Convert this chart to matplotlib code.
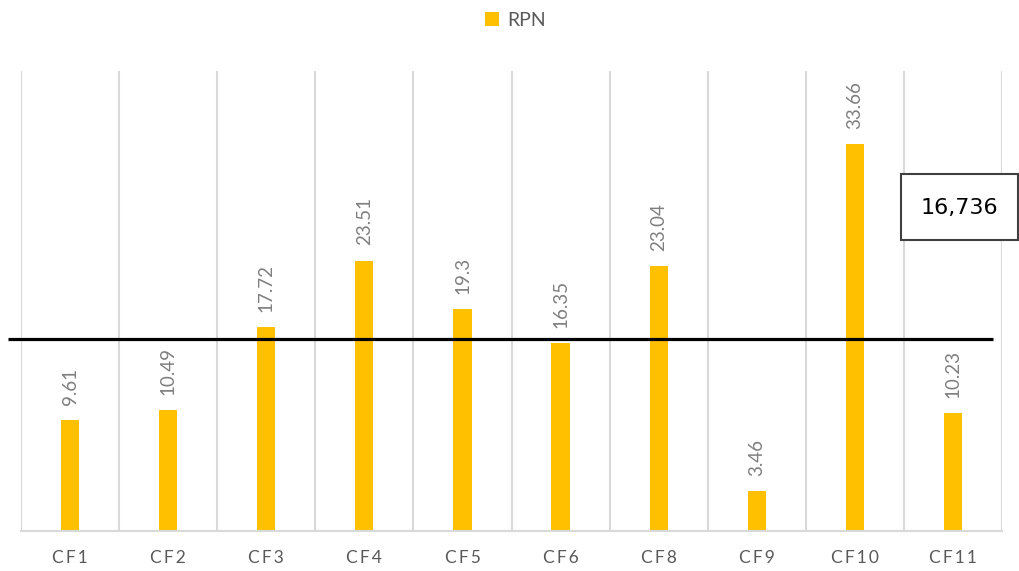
import matplotlib
matplotlib.use("Agg")
import matplotlib.pyplot as plt
import matplotlib.transforms as mtransforms
from matplotlib.patches import Rectangle

categories = ["CF1", "CF2", "CF3", "CF4", "CF5", "CF6", "CF8", "CF9", "CF10", "CF11"]
rpn = [9.61, 10.49, 17.72, 23.51, 19.3, 16.35, 23.04, 3.46, 33.66, 10.23]
mean_value = 16.736
mean_label = "16,736"
series_name = "RPN"

bar_color = "#FFC000"
grid_color = "#D9D9D9"
text_color = "#595959"
fam = ["Lato", "DejaVu Sans"]

fig = plt.figure(figsize=(10.19, 5.71), dpi=100)
ax = fig.add_axes([21/1019, 40/571, 981/1019, 460/571])

x = list(range(len(categories)))
bars = ax.bar(x, rpn, width=0.185, color=bar_color, label=series_name, zorder=2)

ax.set_xlim(-0.5, len(categories) - 0.5)
ax.set_ylim(0, 40)
ax.set_yticks([])
ax.set_xticks(x)
ax.set_xticklabels(["\u2009".join(c) for c in categories], family=fam,
                   fontsize=12.5, color=text_color)
ax.tick_params(axis="x", length=0, pad=14)
ax.set_xticks([i - 0.5 for i in range(len(categories) + 1)], minor=True)
ax.tick_params(axis="x", which="minor", length=0)
ax.grid(axis="x", which="minor", color=grid_color, linewidth=1.5, zorder=0)
ax.grid(axis="x", which="major", visible=False)
for s in ["top", "right", "left"]:
    ax.spines[s].set_visible(False)
ax.spines["bottom"].set_color(grid_color)
ax.spines["bottom"].set_linewidth(1.5)

for xi, v in zip(x, rpn):
    ax.annotate(f"{v:g}", (xi, v), xytext=(0, 11), textcoords="offset points",
                rotation=90, ha="center", va="bottom", fontsize=13.5,
                color="#7F7F7F", family=fam)

# mean line
trans = mtransforms.blended_transform_factory(ax.transAxes, ax.transData)
ax.plot([-0.0135, 0.991], [mean_value, mean_value], color="black", linewidth=2.3,
        transform=trans, clip_on=False, zorder=5, solid_capstyle="butt")

# mean label box
fig.patches.append(Rectangle((901/1019, 1 - 240/571), 117/1019, 66/571,
                             transform=fig.transFigure, facecolor="white",
                             edgecolor="#404040", linewidth=1.5, zorder=10))
fig.text(959.5/1019, 1 - 208/571, mean_label, ha="center", va="center",
         fontsize=16, family="DejaVu Sans", color="black", zorder=11)

leg = fig.legend(handles=[bars], labels=[series_name], loc="center",
                 bbox_to_anchor=(515/1019, 1 - 20/571), frameon=False,
                 handlelength=0.75, handleheight=0.75, handletextpad=0.4,
                 prop={"family": fam, "size": 14})
for t in leg.get_texts():
    t.set_color(text_color)

fig.savefig("out.png", dpi=100)
